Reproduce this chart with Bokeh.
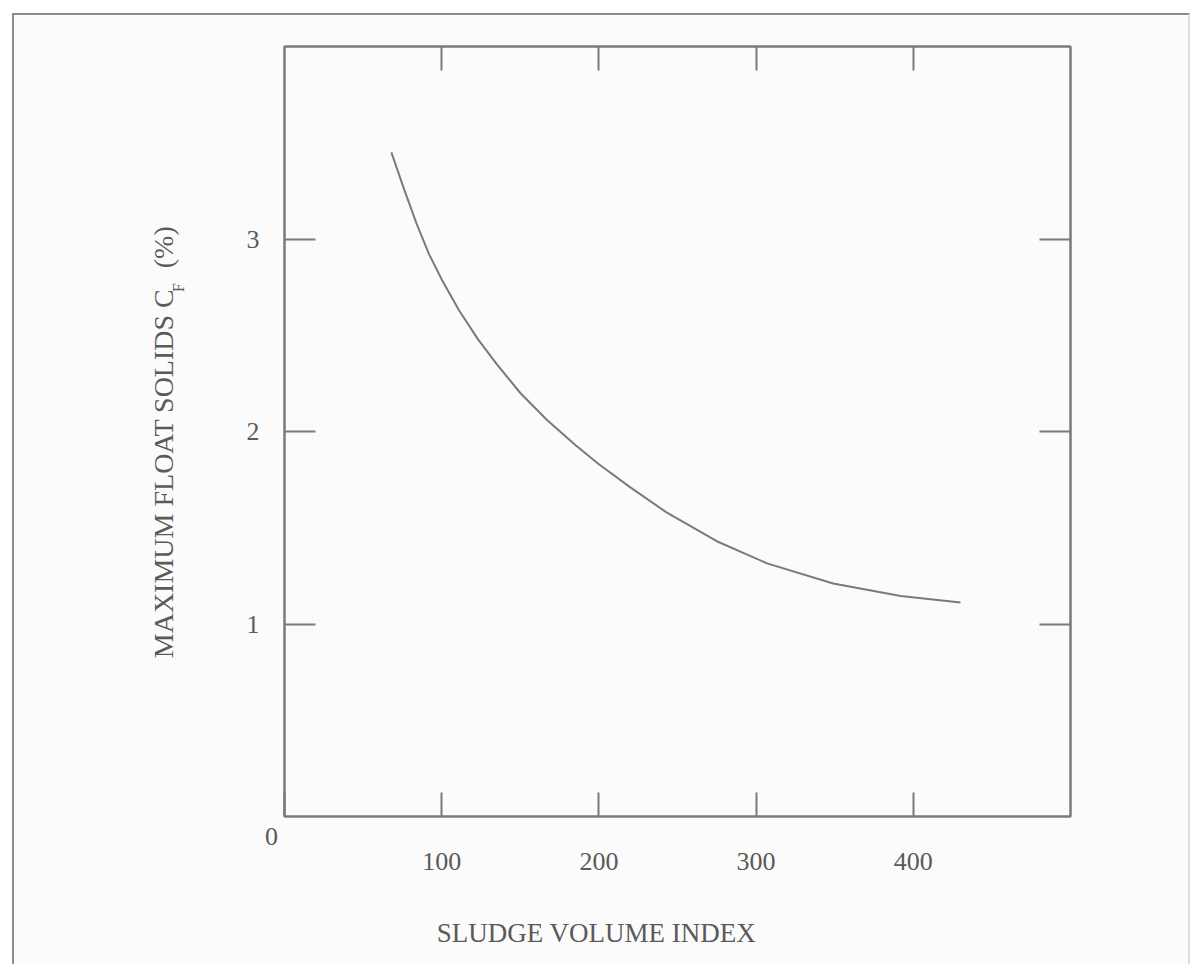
from bokeh.plotting import figure
from bokeh.models import Range1d, LinearAxis, FixedTicker
from bokeh.embed import file_html
from bokeh.resources import INLINE

# ---- data ----
svi = [68, 76, 84, 92, 100, 111, 123, 135, 150, 167, 185, 200, 220, 243, 275, 307, 349, 392, 430]
cf = [3.45, 3.26, 3.08, 2.92, 2.79, 2.63, 2.48, 2.35, 2.20, 2.06, 1.93, 1.83, 1.71, 1.58, 1.43, 1.315, 1.21, 1.145, 1.112]
x_ticks = [0, 100, 200, 300, 400]
x_tick_text = ["0\u2007\u2007", "\n100", "\n200", "\n300", "\n400"]
y_ticks = [1, 2, 3]
x_label = "SLUDGE VOLUME INDEX" + "\u2003" * 6
y_label = "MAXIMUM FLOAT SOLIDS C\u2002\u2005(%)\u2002\u2005"
y_label_sub = "\u2003" * 18 + "F"

FONT = "Liberation Serif"
INK = "#5a5a5a"
LINE = "#7a7a7a"
BG = "#fbfbfb"

p = figure(width=1178, height=951, output_backend="svg", toolbar_location=None,
           x_range=Range1d(0, 500), y_range=Range1d(0, 4),
           x_axis_location=None, y_axis_location=None,
           min_border_left=270, min_border_right=122, min_border_top=31, min_border_bottom=150)
p.margin = (13, 4, 0, 12)
p.styles = {"border-top": "2px solid #8c8c8c", "border-left": "2px solid #8c8c8c",
            "border-right": "2px solid #dddddd"}
p.grid.visible = False
p.background_fill_color = BG
p.border_fill_color = BG
p.outline_line_color = LINE
p.outline_line_width = 2

def style_axis(ax, tick_in, labels):
    ax.major_tick_in = tick_in
    ax.major_tick_out = 0
    ax.minor_tick_in = 0
    ax.minor_tick_out = 0
    ax.axis_line_color = LINE
    ax.axis_line_width = 2
    ax.major_tick_line_color = LINE
    ax.major_tick_line_width = 2
    ax.major_label_text_font = FONT
    ax.major_label_text_font_size = "26px"
    ax.major_label_text_color = INK
    ax.axis_label_text_font = FONT
    ax.axis_label_text_font_style = "normal"
    ax.axis_label_text_color = INK
    if not labels:
        ax.major_label_text_font_size = "0px"
        ax.major_label_text_alpha = 0

bottom = LinearAxis(ticker=FixedTicker(ticks=x_ticks))
style_axis(bottom, 24, True)
bottom.major_label_overrides = dict(zip(x_ticks, x_tick_text))
bottom.major_label_text_line_height = 0.88
bottom.major_label_standoff = 5
bottom.axis_label = x_label
bottom.axis_label_text_font_size = "27px"
bottom.axis_label_standoff = 39
p.add_layout(bottom, "below")

top = LinearAxis(ticker=FixedTicker(ticks=x_ticks[1:]))
style_axis(top, 24, False)
p.add_layout(top, "above")

left = LinearAxis(ticker=FixedTicker(ticks=y_ticks))
style_axis(left, 31, True)
left.major_label_standoff = 25
left.axis_label = y_label
left.axis_label_text_font_size = "28px"
left.axis_label_standoff = 65
p.add_layout(left, "left")

left_sub = LinearAxis(ticker=FixedTicker(ticks=[]))
style_axis(left_sub, 0, False)
left_sub.axis_line_color = None
left_sub.axis_label = y_label_sub
left_sub.axis_label_text_font_size = "16px"
left_sub.axis_label_standoff = -42
p.add_layout(left_sub, "left")

right = LinearAxis(ticker=FixedTicker(ticks=y_ticks))
style_axis(right, 31, False)
p.add_layout(right, "right")

p.line(svi, cf, line_color=LINE, line_width=2, line_join="round")

open("out.html", "w").write(file_html(p, INLINE))
